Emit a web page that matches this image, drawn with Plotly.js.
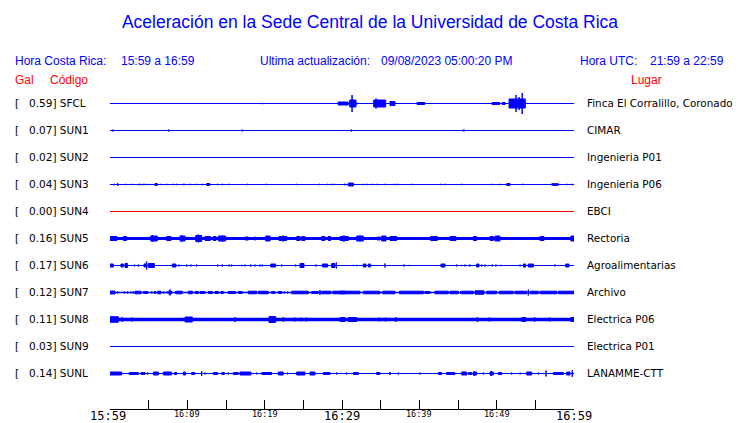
<!DOCTYPE html>
<html>
<head>
<meta charset="utf-8">
<script src="https://cdn.plot.ly/plotly-3.0.1.min.js"></script>
<style>html,body{margin:0;padding:0;background:#fff;}#chart{width:740px;height:423px;}</style>
</head>
<body>
<div id="chart"></div>
<script>
// ---- data ----
const stationCodes = ['SFCL','SUN1','SUN2','SUN3','SUN4','SUN5','SUN6','SUN7','SUN8','SUN9','SUNL'];
const peakGal = [0.59,0.07,0.02,0.04,0.00,0.16,0.17,0.12,0.11,0.03,0.14];
const places = ['Finca El Corralillo, Coronado','CIMAR','Ingenieria P01','Ingenieria P06','EBCI','Rectoria','Agroalimentarias','Archivo','Electrica P06','Electrica P01','LANAMME-CTT'];
// background noise level per station (relative amplitude)
const noiseLevel = [1,1,1,1,1,3,1,1.5,3.5,1,1.2];
// bursts per station: [minute after 15:59, duration (min), half amplitude (relative)]
const evSFCL = [[19.7,0,1.2],[29.5,1.3,2],[31.0,0.8,4],[31.3,0,9],[31.9,0,1.5],[34.1,1.55,4],[34.4,0,5.5],[36.2,0.65,2.5],[37.2,0,1],[38.8,0,1],[39.7,1.0,1.5],[49.4,1.0,1.5],[50.7,0.4,1.5],[51.6,2.1,5],[52.5,0,9],[52.9,0,7],[53.3,0,11]];
const evSUN1 = [[0.4,0,1.5],[7.6,0,1.5],[17.1,0,1.5],[31.2,0,1.5],[45.6,0.3,1],[59.7,0,1]];
const evSUN2 = [];
const evSUN3 = [[0.56,0,1.2],[1.0,0,2],[2.03,0,1.2],[2.81,0,1.2],[3.75,0,1.2],[3.97,0,1.2],[4.31,0,1.2],[4.53,0,1.2],[4.95,0,1.2],[5.82,0.3,1.5],[6.5,0,1.2],[7.33,0,1.2],[8.19,0,1.2],[8.63,0,1.2],[9.48,0,1.2],[9.7,0,1.2],[10.35,0,1.2],[11.21,0,1.2],[11.94,0,1.2],[12.5,0.4,1.5],[13.88,0,1.2],[14.52,0,1.2],[15.39,0,1.2],[16.38,0,1],[17.76,0,1.2],[18.45,0,1],[20.21,0,1.2],[22.15,0,1],[24.09,0,1.2],[26.16,0,1],[27.07,0,1.2],[28.15,0,1.2],[28.67,0,1.2],[29.01,0,1.2],[30.3,0,1.2],[30.39,0,1.2],[30.82,0.65,2],[32.76,0,1.2],[33.2,0,1.2],[33.97,0,1.2],[34.57,0,1.2],[35.56,0,1.2],[36.85,0,1.2],[37.28,0,1.2],[38.06,0,1],[39.09,0,1.2],[42.8,0,1.2],[43.32,0,1.2],[45.48,0,1.2],[46.13,0,1],[48.62,0,1],[49.36,0,1.2],[50.43,0,1.2],[51.3,0.43,1.5],[52.67,0,1],[53.37,0,1.2],[54.09,0,1],[55.18,0,1],[55.74,0,1],[57.12,0.86,1.3],[59.06,0,1.2],[59.78,0,1.2]];
const evSUN4 = [];
const evSUN5 = [[0,0.9,2.5],[1.29,0,2],[1.72,0.43,2.5],[2.46,0,2],[3.97,0,2],[4.31,0,2],[4.65,0,2],[4.96,0,2],[5.26,0.86,3],[5.47,0,4],[6.77,0,2],[7.33,0.56,2.5],[8.28,0,2],[9.05,0.65,3],[9.27,0,4],[10.04,0,2],[10.47,0,2],[10.78,0,2],[11.08,0.77,3.5],[11.42,0,4.5],[12.28,0.69,2.5],[13.36,0.35,2.5],[14.01,0.95,3],[14.53,0,4],[16.6,0,2],[17.46,0.43,2],[18.15,0,2],[18.66,0.17,2],[19.31,0,2],[19.61,0,2],[20.13,0.56,3],[21.85,1.0,2.5],[22.41,0,3.5],[24.14,0.43,2.5],[24.78,0.43,2.5],[26.08,0,2],[26.51,0,2],[26.94,0,2],[27.37,0.43,2.5],[28.23,0.3,2.5],[29.22,0,2],[29.74,1.08,2.5],[30.04,0.35,3],[31.9,0.86,3],[32.33,0,3.5],[33.19,0,2],[34.05,0,2],[34.57,0.34,2],[35.13,0.56,3],[36.21,0.86,2.5],[37.5,0,2],[38.58,0,2],[38.79,0,2],[39.74,0,2],[40.08,0,2],[40.52,0,2],[41.46,0.86,2.5],[43.19,0,2],[43.96,0.78,2.5],[45.34,0,2],[46.21,0,2],[46.98,0.43,2.5],[48.06,0,2],[49.14,0.43,2.5],[49.78,0.65,3],[51.29,0,2],[52.37,0,2],[52.59,0,2],[53.79,0,2],[54.83,0,2],[55.6,0.52,2.5],[56.98,0,2],[57.84,0,2],[58.71,0,2],[59.35,0,2],[59.6,0.4,3]];
const evSUN6 = [[0,0.43,2],[1.42,0.3,2],[1.94,0.34,2.5],[3.15,0,1.5],[3.66,0,1.5],[4.4,0.34,2],[4.74,0,4.5],[4.96,0.77,2.5],[6.25,0,1],[6.51,0,1],[8.06,0.47,2],[8.92,0,1.5],[9.91,0,1.5],[10.47,0,1.5],[11.21,0,1.5],[12.97,0,1],[13.92,0,1.5],[14.53,0,1.5],[15.39,0,1.5],[15.73,0,1.5],[17.03,0,1.2],[17.46,0,1.5],[18.19,0,1.5],[18.75,0,1.5],[19.4,0,1.5],[19.7,0,1.5],[20.78,0.64,2],[22.2,0,1.5],[24.01,0,1.5],[24.57,0.52,2.5],[26.64,0,1.5],[27.46,0.69,2],[28.66,0.43,2.5],[29.27,0,3.5],[31.46,0,1.2],[31.9,0,1.2],[32.76,0.34,2],[33.4,0.3,2],[35.56,0,2.5],[38.02,0,1.5],[38.7,0,1.2],[42.8,0.52,2],[44.83,0,1.5],[45.47,0,1.2],[45.9,0,1.5],[46.55,0,1.5],[47.41,0.3,2],[48.06,0,1.5],[48.49,0,1.5],[49.44,0,1.5],[49.91,0,1.5],[50.56,0,1.2],[53.02,0,1.5],[53.45,0.3,2],[54.09,0.65,2],[57.54,0,1.5],[58.92,0.43,2]];
const evSUN7 = [[0,0.65,2],[0.99,0,1.5],[1.85,0,1.5],[2.28,0,1.5],[2.72,0,1.5],[3.02,0,1.5],[3.23,0.78,1.8],[4.31,0.56,1.5],[5.39,0,1.5],[5.73,0.17,1.5],[6.16,0.43,1.8],[6.94,0,1.5],[7.37,0,1.5],[7.54,0.43,1.8],[7.76,0,3.5],[8.49,0.86,1.8],[10.13,0.52,1.8],[11.0,0.42,1.5],[11.64,0.64,1.5],[12.72,0.51,1.5],[13.58,0.43,1.5],[14.35,0.3,1.5],[15.3,0.95,1.5],[16.6,0.51,1.5],[17.89,1.08,1.8],[19.18,1.29,1.8],[20.9,0.44,1.5],[21.77,0.43,1.5],[22.54,0,1.5],[22.97,0,1.5],[23.49,2.16,1.8],[26.08,0.86,1.5],[27.15,0,3],[27.37,1.2,1.8],[28.8,1.6,1.8],[29.74,2.59,1.8],[32.76,2.15,1.8],[35.26,1.59,1.8],[37.41,3.11,1.8],[40.73,0.65,1.5],[42.02,1.73,1.8],[43.96,1.08,1.8],[45.34,1.64,1.8],[47.2,1.16,2.2],[48.71,1.29,1.8],[50.34,1.81,1.8],[52.37,1.51,1.8],[54.09,0,3.5],[54.31,1.08,1.8],[55.6,2.16,1.8],[57.97,2.03,1.8]];
const evSUN8 = [[0,1.08,3.3],[1.59,0,3],[2.8,0,2.5],[9.7,0.95,3],[16.16,0,3],[20.56,0.86,3.5],[22.41,0,3],[23.92,0,2.5],[24.7,0,2.5],[25.39,0,2.5],[29.74,0.65,2.5],[30.82,1.08,2.5],[34.83,0,2.5],[35.65,0,2.5],[36.94,0,3],[47.5,0,3],[49.01,0,2.5],[53.23,0.52,2.5],[54.91,0,3],[56.85,0,2.5],[59.6,0.4,2.5]];
const evSUN9 = [[34.57,0,1],[46.03,0,1]];
const evSUNL = [[0,1.51,2],[2.46,1.2,1.5],[4.01,0.52,1.5],[4.87,0,1.5],[5.6,0.65,2],[6.9,1.07,2],[8.32,0.3,1.5],[9.48,0.3,2],[10.56,0.43,1.5],[11.85,0,3],[12.28,0,1.5],[13.36,0.56,1.5],[14.44,0.34,1.5],[15.3,0,1.5],[15.95,0.65,1.5],[16.81,1.42,2],[18.97,0,1.5],[19.61,1.29,1.5],[21.77,0.64,2],[22.97,0,1.5],[24.14,1.07,2],[25.86,0.65,2],[27.59,0.86,1.5],[29.31,0,1.5],[30.6,0,1.5],[31.46,0.65,1.5],[34.48,0.43,1.5],[36.21,0,2],[37.28,0,1.5],[40.08,0,1.5],[42.46,0.43,1.5],[43.53,1.08,1.5],[45.47,0.65,2],[46.34,0.43,1.5],[46.98,0.43,2],[47.1,0,3],[48.27,0,1.5],[49.14,0.43,2],[49.27,0,3],[50.21,0.44,1.5],[51.94,0,1.5],[53.02,0,1.5],[53.88,0.65,2],[55.39,0,1.5],[56.38,0,3.5],[57.33,1.29,1.5],[59.05,0.43,2],[59.78,0,4]];
const stationEvents = [evSFCL,evSUN1,evSUN2,evSUN3,evSUN4,evSUN5,evSUN6,evSUN7,evSUN8,evSUN9,evSUNL];
const tickMinutes = [0,5,10,15,20,25,30,35,40,45,50,55,60];
const labelMinutes = [0,10,20,30,40,50,60];
const labelTexts = ['15:59','16:09','16:19','16:29','16:39','16:49','16:59'];
const labelMajor = [true,false,false,true,false,false,true];

// ---- layout helpers ----
const W = 740, H = 423;
const L = 110, R = 574, T = 90, B = 409;
const rowTop = 103.5, rowStep = 27;
const ampScale = 1 / rowStep;
const px = x => (x - L) / (R - L);
const py = y => (B - y) / (B - T);
const BLUE = '#0000ff', RED = '#ff0000';

const traces = [];
stationCodes.forEach((code, i) => {
  const base = -i;
  const color = code === 'SUN4' ? RED : BLUE;
  traces.push({x:[0,60], y:[base,base], mode:'lines', type:'scatter',
    line:{color:color, width:noiseLevel[i]}, hoverinfo:'skip'});
  const xs = [], ys = [];
  stationEvents[i].forEach(([t,d,a]) => {
    const h = Math.max(a - 0.5, 0.5) * ampScale; // outline adds half a pixel
    const hi = base + h, lo = base - h;
    xs.push(t, t+d, t+d, t, t, null);
    ys.push(hi, hi, lo, lo, hi, null);
  });
  if (xs.length) traces.push({x:xs, y:ys, mode:'lines', type:'scatter', fill:'toself',
    fillcolor:color, line:{color:color, width:1}, connectgaps:false, hoverinfo:'skip'});
});

const ann = [];
const txt = (text, x, y, size, color, family, xanchor) => ann.push({text, xref:'paper', yref:'paper',
  x:px(x), y:py(y), xanchor:xanchor||'left', yanchor:'middle', showarrow:false,
  font:{size, color, family}});
const SANS = 'Liberation Sans, Arial, sans-serif';
const DV = 'DejaVu Sans, sans-serif';
txt('Hora Costa Rica:', 13, 61, 12, BLUE, SANS);
txt('15:59 a 16:59', 119, 61, 12, BLUE, SANS);
txt('Ultima actualización:', 258, 61, 12, BLUE, SANS);
txt('09/08/2023 05:00:20 PM', 379, 61, 12, BLUE, SANS);
txt('Hora UTC:', 578, 61, 12, BLUE, SANS);
txt('21:59 a 22:59', 648, 61, 12, BLUE, SANS);
txt('Gal', 13, 80, 12, RED, SANS);
txt('Código', 48, 80, 12, RED, SANS);
txt('Lugar', 629, 80, 12, RED, SANS);
stationCodes.forEach((code, i) => {
  const y = rowTop - 0.8 + rowStep*i;
  txt('[', 13, y, 10.5, '#000', DV);
  txt(peakGal[i].toFixed(2) + '] ' + code, 27, y, 10.5, '#000', DV);
  txt(places[i], 585, y, 10.4, '#000', DV);
});
labelMinutes.forEach((m, k) => {
  ann.push({text:labelTexts[k], xref:'x', yref:'paper', x:m, y:py(labelMajor[k] ? 416 : 414),
    xanchor:'center', yanchor:'middle', showarrow:false, xshift: k === 0 ? -2 : 0,
    font:{size: labelMajor[k] ? 12 : 8.5, color:'#000', family:'DejaVu Sans Mono, monospace'}});
});

const layout = {
  width:W, height:H, margin:{l:L, r:W-R, t:T, b:H-B, pad:0},
  paper_bgcolor:'#fff', plot_bgcolor:'#fff', showlegend:false, hovermode:false,
  title:{text:'Aceleración en la Sede Central de la Universidad de Costa Rica',
    xref:'container', yref:'container', x:0.5, y:1-22/H, xanchor:'center', yanchor:'middle',
    font:{size:17.5, color:BLUE, family:SANS}},
  xaxis:{range:[0,60], tickmode:'array', tickvals:tickMinutes, ticks:'inside', ticklen:9,
    tickcolor:'#000', tickwidth:1, showline:true, linecolor:'#000', linewidth:1,
    showticklabels:false, showgrid:false, zeroline:false, fixedrange:true},
  yaxis:{range:[-(B-rowTop)/rowStep, (rowTop-T)/rowStep], visible:false, showgrid:false,
    zeroline:false, fixedrange:true},
  annotations:ann
};
Plotly.newPlot('chart', traces, layout, {displayModeBar:false, staticPlot:true});
</script>
</body>
</html>
